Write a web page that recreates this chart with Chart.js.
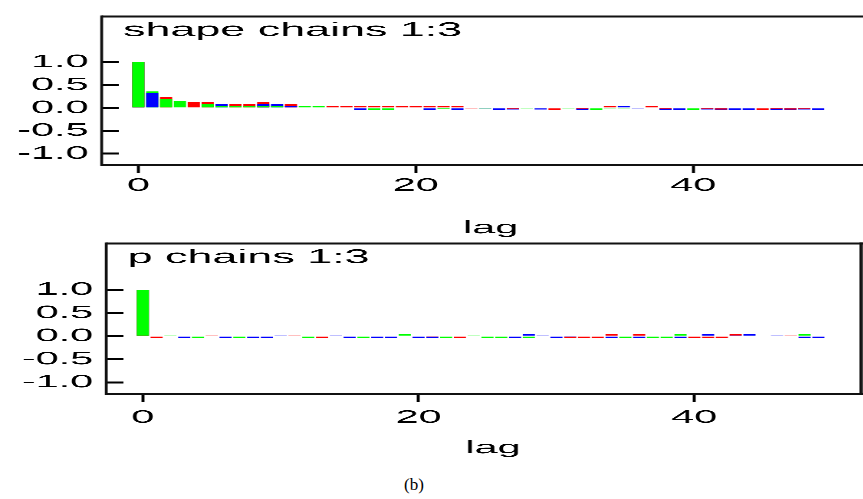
<!DOCTYPE html>
<html>
<head>
<meta charset="utf-8">
<script src="https://cdn.jsdelivr.net/npm/chart.js@4/dist/chart.umd.min.js"></script>
<style>
  html, body { margin: 0; padding: 0; background: #fff; overflow: hidden; }
  body { width: 863px; height: 499px; position: relative; }
  .panel { position: absolute; left: 0; transform: scaleX(2.3); transform-origin: 0 0; }
  #cap { position: absolute; left: 0; width: 828px; top: 475px; text-align: center;
         font: 17px "Liberation Serif", "DejaVu Serif", serif; color: #000; }
</style>
</head>
<body>
<div class="panel" style="top:0px"><canvas id="shape" width="375" height="239"></canvas></div>
<div class="panel" style="top:227px"><canvas id="p" width="375" height="232"></canvas></div>
<div id="cap">(b)</div>
<script>
// autocorrelação por lag, 3 cadeias (azul, vermelho, verde)
const lags = Array.from({ length: 50 }, (_, i) => i);
const xTicks = [0, 20, 40];
const yTicks = [-1, -0.5, 0, 0.5, 1];

const shapeBlue = [1, 0.32, 0, 0, 0, 0, 0.086, 0, 0, 0.086,
  0.086, 0.043, 0, 0, 0, 0, -0.04, 0, 0, 0.01,
  0.01, -0.04, 0, -0.04, 0.01, -0.01, -0.04, -0.035, 0, -0.035,
  0, 0.01, -0.04, 0, 0, 0.04, -0.01, 0, -0.04, -0.04,
  0, -0.035, -0.04, -0.04, -0.04, 0, -0.04, -0.04, -0.035, -0.04];
const shapeRed = [1, 0, 0.236, 0, 0.13, 0.13, 0, 0.086, 0.086, 0.13,
  0, 0.086, 0, 0, 0.043, 0.043, 0.043, 0.043, 0.043, 0.043,
  0.043, 0.043, 0.043, 0.043, -0.01, 0.01, 0, -0.02, 0.01, 0,
  -0.04, 0.01, -0.03, 0, 0.043, 0.01, 0.01, 0.043, -0.02, 0,
  0, -0.02, -0.035, 0, 0, -0.04, -0.03, -0.035, -0.02, 0];
const shapeGreen = [1, 0.36, 0.19, 0.15, 0, 0.086, 0.043, 0.043, 0.043, 0.043,
  0.043, 0, 0.043, 0.043, 0, 0, 0, -0.04, -0.04, 0,
  0, 0, -0.03, 0, 0, -0.01, 0, 0, -0.01, 0,
  0, -0.01, 0, -0.04, -0.01, -0.01, 0, 0, 0, 0,
  -0.04, 0, 0, 0, 0, 0, 0, 0, 0, 0];

const pBlue = [1, 0, 0, -0.04, 0, 0, -0.04, 0, -0.04, -0.04,
  0.01, -0.01, 0, 0, 0.01, -0.04, 0, -0.04, -0.04, 0,
  -0.04, -0.04, 0, 0, 0, 0, -0.01, -0.04, 0.04, 0.01,
  -0.04, -0.02, 0, 0, -0.04, -0.01, -0.04, 0, 0, -0.04,
  0, 0.04, 0, 0.01, 0.04, -0.01, 0.01, 0, -0.04, -0.04];
const pRed = [1, -0.04, -0.01, 0, 0, 0.01, 0, 0, 0, 0,
  0, 0.01, 0, -0.04, 0, 0, 0, 0, 0, 0,
  0, -0.02, 0, -0.04, -0.01, 0, 0, 0, 0, -0.01,
  0, -0.04, -0.04, -0.04, 0.04, 0, 0.04, 0, 0, 0,
  -0.04, -0.04, -0.04, 0.04, 0, -0.01, 0, 0.01, 0, 0];
const pGreen = [1, 0, 0.01, 0, -0.04, -0.01, 0, -0.04, 0, 0,
  -0.01, 0, -0.04, 0, -0.01, 0, -0.04, 0, 0, 0.04,
  0, 0, -0.04, 0, 0.01, -0.04, -0.04, 0, -0.04, 0,
  0, 0, 0, 0, 0, -0.04, 0, -0.04, -0.04, 0.04,
  0, 0, 0, 0, 0, 0, -0.01, 0, 0.04, 0];

const FONT = '"Liberation Sans", Arial, sans-serif';

// as barras se sobrepõem: a maior por baixo, a menor por cima
function layers(chains) {
  const out = chains.map(() => ({ data: [], backgroundColor: [] }));
  lags.forEach((lag, i) => {
    chains
      .map((c, k) => ({ v: c.values[i], color: c.color, k }))
      .sort((a, b) => Math.abs(a.v) - Math.abs(b.v) || b.k - a.k)
      .forEach((s, j) => { out[j].data.push({ x: lag, y: s.v }); out[j].backgroundColor.push(s.color); });
  });
  return out.map(d => ({ ...d, grouped: false, barPercentage: 0.88, categoryPercentage: 1, borderWidth: 0 }));
}

const boxPlugin = {
  id: 'box',
  afterDraw(chart, args, o) {
    const { ctx, chartArea: a } = chart;
    const left = a.left - o.inset;
    ctx.save();
    ctx.strokeStyle = '#111';
    ctx.lineWidth = 2;
    ctx.beginPath();
    ctx.moveTo(left, a.top); ctx.lineTo(a.right, a.top);
    ctx.moveTo(left, a.bottom); ctx.lineTo(a.right, a.bottom);
    ctx.stroke();
    ctx.lineWidth = 1.25;
    ctx.beginPath();
    ctx.moveTo(left, a.top - 1); ctx.lineTo(left, a.bottom + 1);
    if (o.right) { ctx.moveTo(a.right - 0.7, a.top - 1); ctx.lineTo(a.right - 0.7, a.bottom + 1); }
    ctx.stroke();
    ctx.fillStyle = '#000';
    ctx.font = '19.5px ' + FONT;
    ctx.textBaseline = 'alphabetic';
    ctx.fillText(o.label, left + 9.3, a.top + 19.5);
    ctx.restore();
  }
};

function panel(id, label, blue, red, green, L) {
  const font = { family: FONT, size: 18 };
  return new Chart(document.getElementById(id), {
    type: 'bar',
    data: { datasets: layers([
      { values: blue, color: '#0000ff' },
      { values: red, color: '#ff0000' },
      { values: green, color: '#00ff00' },
    ]) },
    options: {
      responsive: false, animation: false, devicePixelRatio: 3,
      layout: { padding: { top: L.top, left: 0, right: 0, bottom: 0 } },
      plugins: { legend: { display: false }, tooltip: { enabled: false },
        box: { label, inset: 7.5, right: L.right } },
      scales: {
        x: {
          type: 'linear', min: -1.4, max: 52.2, offset: false,
          afterBuildTicks: s => { s.ticks = xTicks.map(v => ({ value: v })); },
          afterFit: s => { s.height = L.xHeight; },
          grid: { offset: false, drawOnChartArea: false, drawTicks: true, tickLength: 8, tickWidth: 1.3, tickColor: '#000' },
          border: { display: false },
          ticks: { font, color: '#000', padding: L.labelPad, maxRotation: 0, autoSkip: false },
          title: { display: true, text: 'lag', font, color: '#000', padding: 0 },
        },
        y: {
          min: -1.25, max: 2,
          afterBuildTicks: s => { s.ticks = yTicks.map(v => ({ value: v })); },
          afterFit: s => { s.width = L.yWidth; },
          grid: { drawOnChartArea: false, drawTicks: true, tickLength: 7.5, tickWidth: 2, tickColor: '#000' },
          border: { display: false },
          ticks: { font, color: '#000', padding: 5.7, callback: v => Number(v).toFixed(1) },
        },
      },
    },
    plugins: [boxPlugin],
  });
}

panel('shape', 'shape chains 1:3', shapeBlue, shapeRed, shapeGreen, { top: 12, yWidth: 51.7, xHeight: 74, labelPad: 2, right: false });
panel('p', 'p chains 1:3', pBlue, pRed, pGreen, { top: 12, yWidth: 53.7, xHeight: 65, labelPad: 5, right: true });
</script>
</body>
</html>
